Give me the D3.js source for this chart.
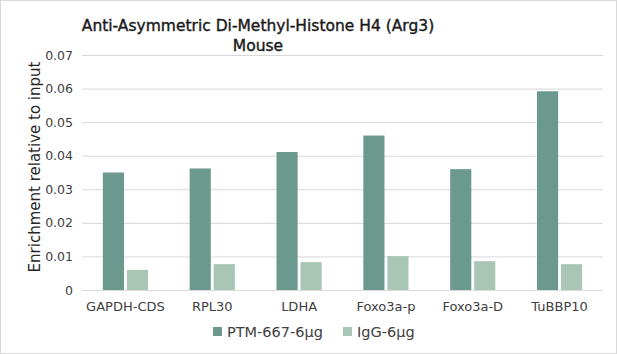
<!DOCTYPE html>
<html>
<head>
<meta charset="utf-8">
<script src="https://cdn.jsdelivr.net/npm/d3@7"></script>
<style>
  body { margin: 0; background: #fff; }
  svg { display: block; font-family: "DejaVu Sans", Verdana, sans-serif; }
</style>
</head>
<body>
<div id="wrapper"></div>
<script>
// data
const categories = ["GAPDH-CDS", "RPL30", "LDHA", "Foxo3a-p", "Foxo3a-D", "TuBBP10"]
const seriesNames = ["PTM-667-6µg", "IgG-6µg"]
const ptmValues = [0.0350, 0.0362, 0.0411, 0.0460, 0.0360, 0.0592]
const iggValues = [0.0060, 0.0077, 0.0083, 0.0101, 0.0086, 0.0077]
const yTicks = [0, 0.01, 0.02, 0.03, 0.04, 0.05, 0.06, 0.07]
const colors = ["#6b998d", "#a8c5b6"]

function drawChart() {
  const dimensions = {
    width: 617,
    height: 354,
    margin: { top: 55, right: 14, bottom: 64, left: 82 },
  }
  dimensions.boundedWidth = dimensions.width - dimensions.margin.left - dimensions.margin.right
  dimensions.boundedHeight = dimensions.height - dimensions.margin.top - dimensions.margin.bottom

  const rows = categories.map((c, i) => ({ cat: c, values: [ptmValues[i], iggValues[i]] }))

  const wrapper = d3.select("#wrapper").append("svg")
    .attr("width", dimensions.width)
    .attr("height", dimensions.height)

  // chart border
  wrapper.append("rect")
    .attr("x", 0.5).attr("y", 0.5)
    .attr("width", dimensions.width - 1).attr("height", dimensions.height - 1)
    .attr("fill", "#fff").attr("stroke", "#d9d9d9")

  const bounds = wrapper.append("g")
    .attr("transform", `translate(${dimensions.margin.left},${dimensions.margin.top})`)

  // scales
  const x0 = d3.scaleBand()
    .domain(categories)
    .range([0, dimensions.boundedWidth])
    .paddingInner(0.48)
    .paddingOuter(0.24)
  const x1 = d3.scaleBand()
    .domain([0, 1])
    .range([0, x0.bandwidth()])
    .paddingInner(0.12)
  const yScale = d3.scaleLinear()
    .domain([0, 0.07])
    .range([dimensions.boundedHeight, 0])

  // gridlines + y axis
  const yAxis = bounds.append("g")
    .call(d3.axisLeft(yScale).tickValues(yTicks)
      .tickSize(-dimensions.boundedWidth)
      .tickPadding(9)
      .tickFormat(d => d === 0 ? "0" : d3.format(".2f")(d)))
  yAxis.select(".domain").remove()
  yAxis.selectAll(".tick line").attr("stroke", "#d9d9d9")
  yAxis.selectAll(".tick text")
    .attr("fill", "#404040")
    .style("font-size", "12.5px")
    .style("font-family", "DejaVu Sans, Verdana, sans-serif")

  // bars
  const groups = bounds.selectAll(".grp")
    .data(rows)
    .enter().append("g")
      .attr("transform", d => `translate(${x0(d.cat)},0)`)
  groups.selectAll("rect")
    .data(d => d.values)
    .enter().append("rect")
      .attr("x", (d, i) => x1(i))
      .attr("y", d => yScale(d))
      .attr("width", x1.bandwidth())
      .attr("height", d => dimensions.boundedHeight - yScale(d))
      .attr("fill", (d, i) => colors[i])

  // x axis labels
  const xAxis = bounds.append("g")
    .attr("transform", `translate(0,${dimensions.boundedHeight})`)
    .call(d3.axisBottom(x0).tickSize(0).tickPadding(12))
  xAxis.select(".domain").remove()
  xAxis.selectAll(".tick text")
    .attr("fill", "#404040")
    .style("font-size", "13px")
    .style("font-family", "DejaVu Sans, Verdana, sans-serif")

  // y label
  wrapper.append("text")
    .attr("transform", "translate(40,167) rotate(-90)")
    .attr("text-anchor", "middle")
    .attr("fill", "#262626")
    .style("font-size", "15px")
    .text("Enrichment relative to input")

  // title
  const title = wrapper.append("text")
    .attr("text-anchor", "middle")
    .attr("fill", "#1a1a1a")
    .attr("stroke", "#1a1a1a")
    .attr("stroke-width", 0.4)
    .style("font-size", "15.5px")
  title.append("tspan").attr("x", 258).attr("y", 31).text("Anti-Asymmetric Di-Methyl-Histone H4 (Arg3)")
  title.append("tspan").attr("x", 258).attr("y", 51).text("Mouse")

  // legend
  const legend = wrapper.append("g").attr("transform", "translate(213,332)")
  const items = legend.selectAll("g")
    .data(seriesNames)
    .enter().append("g")
      .attr("transform", (d, i) => `translate(${i * 130},0)`)
  items.append("rect")
    .attr("x", 0).attr("y", -5)
    .attr("width", 9).attr("height", 9)
    .attr("fill", (d, i) => colors[i])
  items.append("text")
    .attr("x", 14).attr("y", 5)
    .attr("fill", "#404040")
    .style("font-size", "14.5px")
    .text(d => d)
}
drawChart()
</script>
</body>
</html>
